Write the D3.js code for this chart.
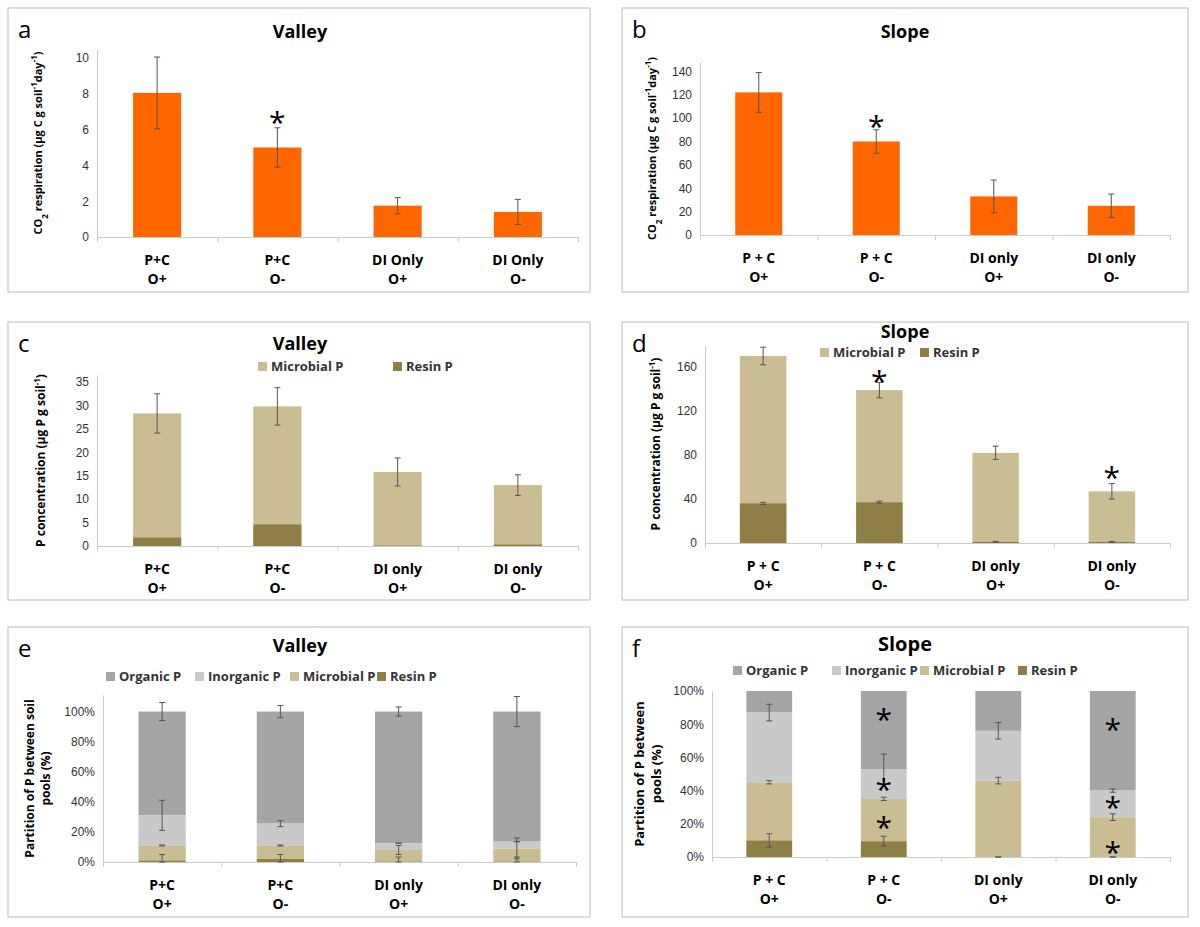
<!DOCTYPE html><html><head><meta charset="utf-8">
<script src="https://cdn.jsdelivr.net/npm/d3@7"></script>
<style>body{margin:0;background:#fff}svg{font-family:"Open Sans","Liberation Sans",sans-serif}</style></head><body>
<svg id="c" width="1200" height="927"></svg>
<script>
const catsA=[["P+C","O+"],["P+C","O-"],["DI Only","O+"],["DI Only","O-"]];
const catsB=[["P + C","O+"],["P + C","O-"],["DI only","O+"],["DI only","O-"]];
const catsC=[["P+C","O+"],["P+C","O-"],["DI only","O+"],["DI only","O-"]];
const co2Valley=[8.05,5.0,1.75,1.4], co2ValleyErr=[2.0,1.1,0.45,0.7];
const co2Slope=[122,80,33,25], co2SlopeErr=[17,10,14,10];
const vMicro=[28.3,29.8,15.8,13.0], vMicroErr=[4.2,4.0,3.0,2.2], vResin=[1.8,4.6,0.1,0.3];
const sMicro=[170,139,82,47], sMicroErr=[8,7,6,7], sResin=[36,37,1,1], sResinErr=[1,1,0.5,0.5];
const eResin=[1,2,0.3,0.3], eMicro=[11,11,8,9], eInorg=[31,25.5,12.5,13.5], eOrg=[100,100,100,100];
const eOrgErr=[6,4,3,10], eInorgErr=[10,2,0,0], eMicroErr=[0.3,0.3,3,7], eResinErr=[4,3,3,3];
const fResin=[10,9.5,0,0], fMicro=[45,35,46,24], fInorg=[87,53,76,40], fOrg=[100,100,100,100];
const fInorgErr=[5,9,5,1], fMicroErr=[1,1,2,2], fResinErr=[4,3,0,0];
const C={orange:"#FF6600",micro:"#CBBD93",resin:"#8F7F45",org:"#A5A5A5",inorg:"#C9C9C9"};
const svg=d3.select("#c");

function panel(o){
  const g=svg.append("g");
  g.append("rect").attr("x",o.box[0]).attr("y",o.box[1]).attr("width",o.box[2]).attr("height",o.box[3]).attr("fill","#fff").attr("stroke","#bbb");
  g.append("text").attr("x",o.box[0]+10).attr("y",o.box[1]+30).attr("font-size",24).text(o.letter);
  g.append("text").attr("x",o.titleX).attr("y",o.titleY).attr("text-anchor","middle").attr("font-weight","bold").attr("font-size",o.tfs||18).text(o.title);
  const x=d3.scaleBand().domain(d3.range(4)).range([o.x0,o.x1]).paddingInner(0.6).paddingOuter(0.3);
  const y=d3.scaleLinear().domain(o.dom).range([o.yb,o.yt]);
  const ax=g.append("g").attr("transform",`translate(${o.x0},0)`).call(d3.axisLeft(y).tickValues(o.ticks).tickFormat(o.fmt||d3.format("d")).tickSize(0).tickPadding(8));
  ax.select(".domain").attr("stroke","#ccc");
  ax.selectAll("text").attr("font-size",12).attr("fill","#333");
  const xa=g.append("g").attr("transform",`translate(0,${o.yb})`).call(d3.axisBottom(d3.scaleLinear().domain([0,4]).range([o.x0,o.x1])).tickValues([0,1,2,3,4]).tickFormat("").tickSize(5));
  xa.selectAll("path,line").attr("stroke","#ccc");
  o.cats.forEach((c,i)=>{const cx=x(i)+x.bandwidth()/2;
    c.forEach((t,j)=>g.append("text").attr("x",cx).attr("y",o.yb+28+j*19).attr("text-anchor","middle").attr("font-weight","bold").attr("font-size",14).text(t));});
  o.stacks.forEach(s=>{
    s.vals.forEach((v,i)=>{const b=s.base?s.base[i]:0;
      g.append("rect").attr("x",x(i)).attr("width",x.bandwidth()).attr("y",y(v)).attr("height",y(b)-y(v)).attr("fill",s.color);});
  });
  o.stacks.forEach(s=>{ if(!s.err) return;
    s.vals.forEach((v,i)=>{const e=s.err[i]; if(e==null) return; const cx=x(i)+x.bandwidth()/2;
      const lo=Math.max(o.dom[0],v-e), hi=v+e;
      g.append("line").attr("x1",cx).attr("x2",cx).attr("y1",y(lo)).attr("y2",y(hi)).attr("stroke","#555");
      [lo,hi].forEach(z=>g.append("line").attr("x1",cx-3).attr("x2",cx+3).attr("y1",y(z)).attr("y2",y(z)).attr("stroke","#555"));});
  });
  (o.stars||[]).forEach(s=>g.append("text").attr("x",x(s[0])+x.bandwidth()/2).attr("y",y(s[1])+14).attr("text-anchor","middle").attr("font-size",30).text("*"));
  const yl=g.append("text").attr("transform",`translate(${o.ylx},${(o.yb+o.yt)/2}) rotate(-90)`).attr("text-anchor","middle").attr("font-weight","bold").attr("font-size",o.ylfs||12);
  o.ylab(yl);
  if(o.legend){o.legend.items.forEach((it,k)=>{const lx=o.legend.xs[k];
    g.append("rect").attr("x",lx).attr("y",o.legend.y-6).attr("width",9).attr("height",9).attr("fill",it[1]);
    g.append("text").attr("x",lx+13).attr("y",o.legend.y+3).attr("font-size",13).attr("font-weight","bold").attr("fill","#333").text(it[0]);});}
}
function co2Label(t){t.append("tspan").text("CO");t.append("tspan").attr("baseline-shift","sub").attr("font-size",8).text("2");
  t.append("tspan").text(" respiration (µg C g soil");t.append("tspan").attr("baseline-shift","super").attr("font-size",8).text("-1");
  t.append("tspan").text("day");t.append("tspan").attr("baseline-shift","super").attr("font-size",8).text("-1");t.append("tspan").text(")");}
function pLabel(t){t.append("tspan").text("P concentration (µg P g soil");t.append("tspan").attr("baseline-shift","super").attr("font-size",8).text("-1");t.append("tspan").text(")");}

panel({box:[8,8,582,284],letter:"a",title:"Valley",titleX:300,titleY:38,x0:97,x1:578,yb:237,yt:49,dom:[0,10.5],ticks:[0,2,4,6,8,10],cats:catsA,ylx:42,ylfs:11,ylab:co2Label,
  stacks:[{vals:co2Valley,color:C.orange,err:co2ValleyErr}],stars:[[1,6.6]]});
panel({box:[622,8,566,284],letter:"b",title:"Slope",titleX:905,titleY:38,x0:700,x1:1170,yb:235,yt:62,dom:[0,148],ticks:[0,20,40,60,80,100,120,140],cats:catsB,ylx:656,ylfs:11,ylab:co2Label,
  stacks:[{vals:co2Slope,color:C.orange,err:co2SlopeErr}],stars:[[1,96]]});
panel({box:[8,322,582,278],letter:"c",title:"Valley",titleX:300,titleY:350,x0:97,x1:578,yb:546,yt:375,dom:[0,36.5],ticks:[0,5,10,15,20,25,30,35],cats:catsC,ylx:45,ylab:pLabel,
  legend:{y:368,xs:[258,393],items:[["Microbial P",C.micro],["Resin P",C.resin]]},
  stacks:[{vals:vMicro,color:C.micro,err:vMicroErr},{vals:vResin,color:C.resin}]});
panel({box:[622,322,566,278],letter:"d",title:"Slope",titleX:905,titleY:338,x0:705,x1:1170,yb:543,yt:345,dom:[0,180],ticks:[0,40,80,120,160],cats:catsB,ylx:660,ylab:pLabel,
  legend:{y:354,xs:[820,920],items:[["Microbial P",C.micro],["Resin P",C.resin]]},
  stacks:[{vals:sMicro,color:C.micro,err:sMicroErr},{vals:sResin,color:C.resin,err:sResinErr}],stars:[[1,150],[3,63]]});
const pct=d3.format(".0%"), pf=v=>pct(v/100);
panel({box:[8,627,582,290],letter:"e",title:"Valley",titleX:300,titleY:652,x0:103,x1:576,yb:862,yt:695,dom:[0,111],ticks:[0,20,40,60,80,100],fmt:pf,cats:catsC,ylx:38,
  ylab:t=>{t.append("tspan").attr("x",0).attr("dy","-0.3em").text("Partition of P between soil");t.append("tspan").attr("x",0).attr("dy","1.3em").text("pools  (%)");},
  legend:{y:678,xs:[106,195,290,377],items:[["Organic P",C.org],["Inorganic P",C.inorg],["Microbial P",C.micro],["Resin P",C.resin]]},
  stacks:[{vals:eOrg,base:eInorg,color:C.org,err:eOrgErr},{vals:eInorg,base:eMicro,color:C.inorg,err:eInorgErr},{vals:eMicro,base:eResin,color:C.micro,err:eMicroErr},{vals:eResin,color:C.resin,err:eResinErr}]});
panel({box:[622,627,566,290],letter:"f",title:"Slope",titleX:905,titleY:651,tfs:20,x0:712,x1:1170,yb:857,yt:691,dom:[0,100],ticks:[0,20,40,60,80,100],fmt:pf,cats:catsB,ylx:648,ylfs:13,
  ylab:t=>{t.append("tspan").attr("x",0).attr("dy","-0.3em").text("Partition of P between");t.append("tspan").attr("x",0).attr("dy","1.3em").text("pools (%)");},
  legend:{y:672,xs:[733,832,920,1018],items:[["Organic P",C.org],["Inorganic P",C.inorg],["Microbial P",C.micro],["Resin P",C.resin]]},
  stacks:[{vals:fOrg,base:fInorg,color:C.org},{vals:fInorg,base:fMicro,color:C.inorg,err:fInorgErr},{vals:fMicro,base:fResin,color:C.micro,err:fMicroErr},{vals:fResin,color:C.resin,err:fResinErr}],
  stars:[[1,85],[1,43],[1,20],[3,79],[3,32],[3,5]]});
</script></body></html>
